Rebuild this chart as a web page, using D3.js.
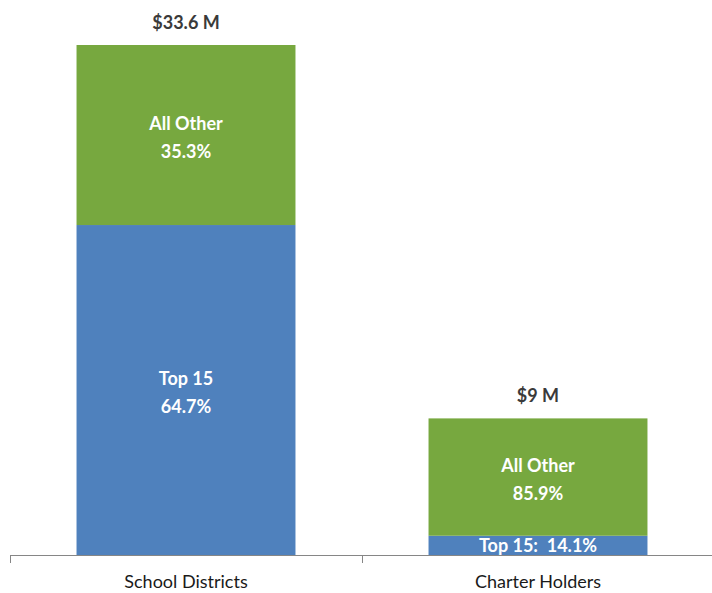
<!DOCTYPE html>
<html>
<head>
<meta charset="utf-8">
<script src="https://cdn.jsdelivr.net/npm/d3@7"></script>
<style>
  body { margin: 0; background: #fff; }
  svg { display: block; font-family: Lato, "Open Sans", sans-serif; }
</style>
</head>
<body>
<div id="chart"></div>
<script>
// data
const categories = ["School Districts", "Charter Holders"];
const totals = [33.6, 9];            // $ millions
const totalLabels = ["$33.6 M", "$9 M"];
const top15Pct = [64.7, 14.1];
const otherPct = [35.3, 85.9];
const segmentNames = ["Top 15", "All Other"];
const segmentColors = ["#4f81bd", "#77a83f"];

const width = 712, height = 593;
const baseY = 555;

const svg = d3.select("#chart").append("svg")
  .attr("width", width)
  .attr("height", height);

const x = d3.scaleBand()
  .domain(categories)
  .range([10, 714])
  .paddingInner(0.378)
  .paddingOuter(0.189);

const y = d3.scaleLinear()
  .domain([0, 36])
  .range([baseY, baseY - 36 * (510 / 33.6)]);

// build stacked rows in $M
const rows = categories.map((c, i) => ({
  cat: c,
  total: totals[i],
  label: totalLabels[i],
  segs: [
    { name: segmentNames[0], pct: top15Pct[i], v0: 0, v1: totals[i] * top15Pct[i] / 100 },
    { name: segmentNames[1], pct: otherPct[i], v0: totals[i] * top15Pct[i] / 100, v1: totals[i] }
  ]
}));

const g = svg.selectAll("g.bar")
  .data(rows)
  .enter().append("g")
  .attr("class", "bar");

g.selectAll("rect")
  .data(d => d.segs.map((s, k) => ({ ...s, cat: d.cat, k })))
  .enter().append("rect")
  .attr("x", d => x(d.cat))
  .attr("width", x.bandwidth())
  .attr("y", d => y(d.v1))
  .attr("height", d => y(d.v0) - y(d.v1))
  .attr("fill", d => segmentColors[d.k]);

// segment labels
g.each(function(d) {
  const sel = d3.select(this);
  const cx = x(d.cat) + x.bandwidth() / 2;
  d.segs.forEach(s => {
    const h = y(s.v0) - y(s.v1);
    const cy = (y(s.v0) + y(s.v1)) / 2;
    const t = sel.append("text")
      .attr("x", cx)
      .attr("text-anchor", "middle")
      .attr("fill", "#fff")
      .attr("font-weight", "bold")
      .attr("font-size", 18);
    if (h < 40) {
      t.attr("y", cy + 7).attr("font-size", 18)
        .attr("xml:space", "preserve")
        .text(s.name + ":  " + s.pct.toFixed(1) + "%");
    } else {
      t.append("tspan").attr("x", cx).attr("y", cy - 5).text(s.name);
      t.append("tspan").attr("x", cx).attr("y", cy + 23).text(s.pct.toFixed(1) + "%");
    }
  });
  sel.append("text")
    .attr("x", cx)
    .attr("y", y(d.total) - 16)
    .attr("text-anchor", "middle")
    .attr("fill", "#3a3a3a")
    .attr("font-weight", "bold")
    .attr("font-size", 18)
    .text(d.label);
});

// x axis
const axis = svg.append("g")
  .attr("transform", `translate(0,${baseY})`)
  .call(d3.axisBottom(x).tickSize(0).tickPadding(20));
axis.select(".domain").attr("stroke", "#868686").attr("d", "M10,0.5H714");
axis.selectAll(".tick text")
  .attr("font-family", "Lato, 'Open Sans', sans-serif")
  .attr("font-size", 18)
  .attr("fill", "#1a1a1a");

const step = x.step();
const tickXs = [x(categories[0]) + x.bandwidth() / 2 - step / 2]
  .concat(categories.map(c => x(c) + x.bandwidth() / 2 + step / 2));
axis.selectAll("line.sep")
  .data(tickXs)
  .enter().append("line")
  .attr("class", "sep")
  .attr("x1", d => Math.round(d) + 0.5)
  .attr("x2", d => Math.round(d) + 0.5)
  .attr("y1", 0)
  .attr("y2", 8)
  .attr("stroke", "#868686");
</script>
</body>
</html>
